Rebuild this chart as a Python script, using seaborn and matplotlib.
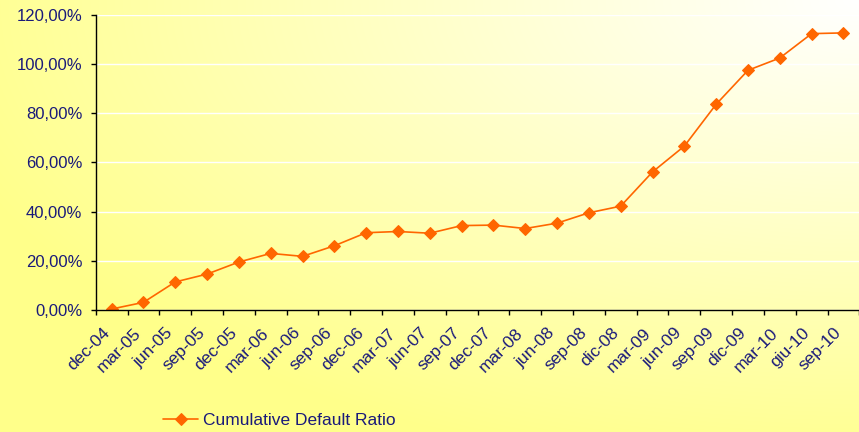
import matplotlib
matplotlib.use("Agg")
import matplotlib.pyplot as plt
import matplotlib.ticker as mticker
import matplotlib.transforms as mtrans
import numpy as np
import pandas as pd
import seaborn as sns

# data
periods = ["dec-04", "mar-05", "jun-05", "sep-05", "dec-05", "mar-06", "jun-06", "sep-06",
           "dec-06", "mar-07", "jun-07", "sep-07", "dec-07", "mar-08", "jun-08", "sep-08",
           "dic-08", "mar-09", "jun-09", "sep-09", "dic-09", "mar-10", "giu-10", "sep-10"]
default_ratio = [0.4, 3.1, 11.4, 14.6, 19.5, 23.0, 21.8, 26.1,
                 31.4, 31.9, 31.2, 34.3, 34.5, 33.1, 35.3, 39.5,
                 42.2, 56.1, 66.6, 83.6, 97.4, 102.4, 112.3, 112.6]
series_name = "Cumulative Default Ratio"

df = pd.DataFrame({"pos": np.arange(len(periods)), "value": default_ratio})

sns.set_theme(style="white")
plt.rcParams["font.family"] = ["Liberation Sans", "DejaVu Sans"]

text_col = "#1a1a7a"
line_col = "#ff6600"

fig = plt.figure(figsize=(8.59, 4.32), dpi=100)

# background gradient: white in the top right corner, yellow elsewhere
bg = fig.add_axes([0, 0, 1, 1], zorder=-5)
h, w = 432, 859
yy, xx = np.mgrid[0:h, 0:w]
d = np.sqrt(((xx - w) / w) ** 2 + (yy / h) ** 2)
blue = np.clip(255 - 105 * d, 138, 255) / 255.0
img = np.dstack([np.ones_like(blue), np.ones_like(blue), blue])
bg.imshow(img, aspect="auto", extent=[0, 1, 0, 1], origin="upper")
bg.axis("off")

ax = fig.add_axes([0.1114, 0.2824, 0.889, 0.6836])
ax.patch.set_alpha(0)

sns.lineplot(data=df, x="pos", y="value", ax=ax, color=line_col, marker="D",
             markersize=6, markeredgecolor=line_col, linewidth=1.2,
             label=series_name, sort=False)

ax.set_xlim(-0.5, len(periods) - 0.5)
ax.set_ylim(0, 120)
ax.set_xlabel("")
ax.set_ylabel("")

ax.set_xticks(np.arange(len(periods)))
ax.set_xticklabels(periods, rotation=45, ha="right", rotation_mode="anchor",
                   color=text_col, fontsize=12.5)
ax.set_xticks(np.arange(len(periods) + 1) - 0.5, minor=True)
ax.tick_params(axis="x", which="major", bottom=True, length=0, pad=9)
ax.tick_params(axis="x", which="minor", bottom=True, length=3.6, width=1,
               color="black", direction="out")
shift = mtrans.ScaledTranslation(-7 / 72, -2 / 72, fig.dpi_scale_trans)
for lab in ax.get_xticklabels():
    lab.set_transform(lab.get_transform() + shift)

ax.yaxis.set_major_locator(mticker.MultipleLocator(20))
ax.yaxis.set_major_formatter(mticker.FuncFormatter(lambda v, p: f"{v:.2f}%".replace(".", ",")))
ax.tick_params(axis="y", left=True, length=3.6, width=1, color="black", direction="out",
               labelcolor=text_col, labelsize=12, pad=6)

ax.grid(axis="y", color="white", linewidth=1)
ax.grid(axis="x", visible=False)
for s in ["top", "right"]:
    ax.spines[s].set_visible(False)
for s in ["left", "bottom"]:
    ax.spines[s].set_color("black")
    ax.spines[s].set_linewidth(1)

ax.get_legend().remove()
handles, labels = ax.get_legend_handles_labels()
leg = fig.legend(handles, labels, loc="center left", bbox_to_anchor=(0.172, 0.026),
                 frameon=False, fontsize=12.5, handlelength=2.0, handletextpad=0.3)
for t in leg.get_texts():
    t.set_color(text_col)

fig.savefig("out.png", dpi=100)
